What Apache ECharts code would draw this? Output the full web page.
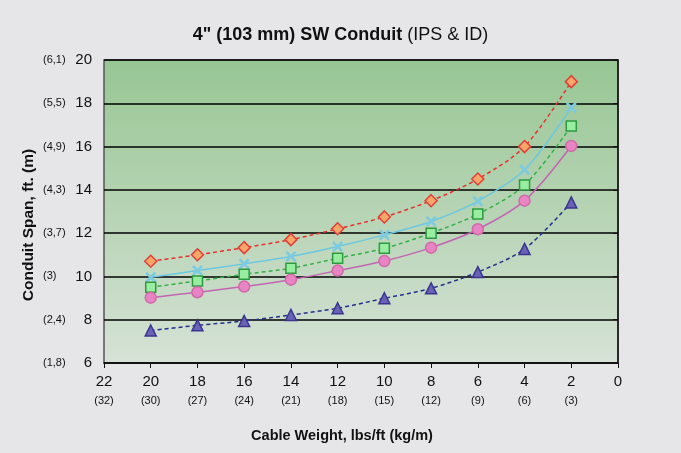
<!DOCTYPE html>
<html><head><meta charset="utf-8">
<script src="https://cdn.jsdelivr.net/npm/echarts@6/dist/echarts.min.js"></script>
<style>html,body{margin:0;padding:0;background:#e6e6e8;}#c{width:681px;height:453px;}</style>
</head><body><div id="c"></div>
<script>
const weights = [20, 18, 16, 14, 12, 10, 8, 6, 4, 2];
const redDiamond = [10.7, 11.0, 11.33, 11.7, 12.2, 12.75, 13.5, 14.5, 16.0, 19.0];
const cyanX = [9.96, 10.27, 10.58, 10.92, 11.38, 11.92, 12.54, 13.48, 14.93, 17.8];
const greenSquare = [9.5, 9.79, 10.1, 10.38, 10.84, 11.3, 12.0, 12.88, 14.22, 16.95];
const pinkCircle = [9.02, 9.27, 9.53, 9.85, 10.27, 10.71, 11.33, 12.18, 13.5, 16.03];
const navyTriangle = [7.5, 7.74, 7.94, 8.22, 8.53, 8.99, 9.45, 10.2, 11.27, 13.42];
const yMetric = {20:'(6,1)',18:'(5,5)',16:'(4,9)',14:'(4,3)',12:'(3,7)',10:'(3)',8:'(2,4)',6:'(1,8)'};
const xMetric = {22:'(32)',20:'(30)',18:'(27)',16:'(24)',14:'(21)',12:'(18)',10:'(15)',8:'(12)',6:'(9)',4:'(6)',2:'(3)',0:''};
const xName = 'Cable Weight, lbs/ft (kg/m)';
const yName = 'Conduit Span, ft. (m)';

const pairs = arr => weights.map((w,i)=>[w,arr[i]]);
const font = 'Liberation Sans, Arial, sans-serif';
const chart = echarts.init(document.getElementById('c'));
function ser(name, data, lineColor, dashed, symbol, size, fill, border, extra){
  return Object.assign({
    name, type:'line', data:pairs(data), smooth:0.3, symbol, symbolSize:size,
    lineStyle:{color:lineColor, width:1.5, type: dashed?[4,3]:'solid'},
    itemStyle:{color:fill, borderColor:border, borderWidth:1.5},
    z:3
  }, extra||{});
}
chart.setOption({
  backgroundColor:'#e6e6e8',
  animation:false,
  title:{
    text:'{b|4" (103 mm) SW Conduit} {n|(IPS & ID)}',
    left:'center', top:21,
    textStyle:{rich:{
      b:{fontFamily:font,fontSize:18,fontWeight:'bold',color:'#111'},
      n:{fontFamily:font,fontSize:18,fontWeight:'normal',color:'#111'}
    }}
  },
  graphic:[
    {type:'text', x:342, y:436, style:{text:xName, fontFamily:font, fontSize:14.5, fontWeight:'bold', fill:'#111', align:'center', verticalAlign:'middle'}},
    {type:'text', x:29, y:225, rotation:Math.PI/2, style:{text:yName, fontFamily:font, fontSize:15.5, fontWeight:'bold', fill:'#111', align:'center', verticalAlign:'middle'}}
  ],
  grid:{left:104,right:63,top:60,bottom:90,show:true,borderColor:'#555',borderWidth:1.5,
    backgroundColor:{type:'linear',x:0,y:0,x2:0,y2:1,colorStops:[{offset:0,color:'#97c693'},{offset:1,color:'#d6e2d6'}]}},
  xAxis:{
    type:'value', min:0, max:22, interval:2, inverse:true,
    axisLine:{show:true,onZero:false,lineStyle:{color:'#111',width:1.5}},
    axisTick:{show:true,length:5,lineStyle:{color:'#111'}},
    splitLine:{show:false},
    axisLabel:{margin:8,color:'#111',
      formatter:v=>'{v|'+v+'}\n{m|'+(xMetric[v]||' ')+'}',
      rich:{v:{fontFamily:font,fontSize:15,color:'#111',lineHeight:22},m:{fontFamily:font,fontSize:11,color:'#111',lineHeight:16}}}
  },
  yAxis:{
    type:'value', min:6, max:20, interval:2,
    axisLine:{show:true,lineStyle:{color:'#111',width:1.5}},
    axisTick:{show:true,length:5,lineStyle:{color:'#111'}},
    splitLine:{show:true,lineStyle:{color:'#000',width:1.5}},
    axisLabel:{margin:12,color:'#111',
      formatter:v=>'{m|'+(yMetric[v]||'')+'}{v|'+v+'}',
      rich:{m:{fontFamily:font,fontSize:11,color:'#111',width:30,align:'left'},v:{fontFamily:font,fontSize:15,color:'#111',width:19,align:'right'}}}
  },
  series:[
    ser('red', redDiamond, '#e8302c', true, 'diamond', 12, '#f9a66a', '#e0403a'),
    ser('cyan', cyanX, '#6cc8e0', false, 'path://M4,0H6V4H10V6H6V10H4V6H0V4H4Z', 13, '#7ccbe0', '#7ccbe0', {symbolRotate:45, itemStyle:{color:'#7ccbe0',borderWidth:0}}),
    ser('green', greenSquare, '#34b044', true, 'rect', 10, '#98eea0', '#2e9a40'),
    ser('pink', pinkCircle, '#c464b4', false, 'circle', 11, '#e884c4', '#d06aa8'),
    ser('navy', navyTriangle, '#24308a', true, 'triangle', 11, '#6a62b4', '#3a3690')
  ]
});
</script></body></html>
